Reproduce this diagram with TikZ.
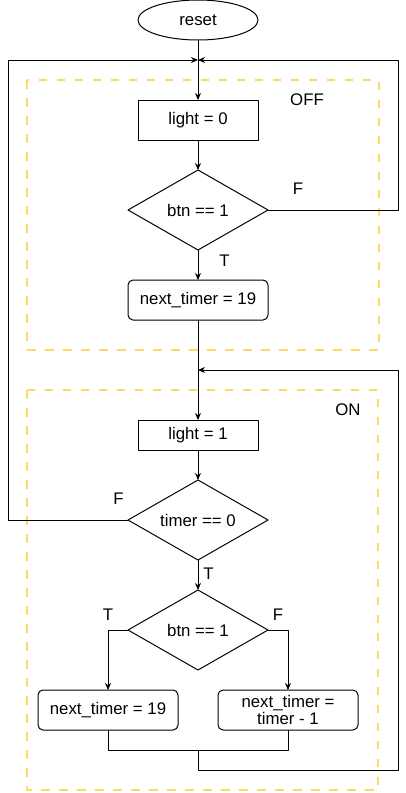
\documentclass[tikz,border=0pt]{standalone}
\usepackage{fontspec}
\setmainfont{Liberation Sans}
\usetikzlibrary{arrows.meta,positioning,shapes.geometric}

\begin{document}
\begin{tikzpicture}[
    x=1pt,
    y=-1pt,
    >={Stealth[length=7pt,width=6pt]},
    font=\fontsize{16.8}{19}\selectfont,
    line join=round,
    line width=1pt,
    outer sep=0pt,
    block/.style={
        draw,
        rectangle,
        minimum width=120pt,
        minimum height=40pt,
        align=center
    },
    roundblock/.style={
        block,
        rounded corners=5pt,
        minimum width=140pt
    },
    terminal/.style={
        draw,
        ellipse,
        minimum width=120pt,
        minimum height=40pt,
        inner sep=1pt
    },
    decision/.style={
        draw,
        diamond,
        aspect=1.75,
        minimum width=140pt,
        minimum height=80pt,
        align=center,
        inner sep=1pt
    },
    frame/.style={
        draw={rgb,255:red,255;green,217;blue,102},
        line width=2.2pt,
        dash pattern=on 8.5pt off 9.5pt
    },
    signal/.style={->}
]
\useasboundingbox (0,0) rectangle (406,793);

% =========================
% State frames
% =========================
\draw[frame] (27,80) rectangle (379,350);
\draw[frame] (27,390) rectangle (378,790);
\node (offlabel) at (307,100) {OFF};
\node (onlabel) at (348,410) {ON};

% =========================
% Nodes
% =========================
\node[terminal] (reset) at (198,20) {reset};

\coordinate (join1) at (198,60);

\node[block, below=60pt of reset] (light0) {light = 0};

\node[decision, below=30pt of light0] (btn1) {btn == 1};

\node[roundblock, below=30pt of btn1] (load1) {next\_timer = 19};

\coordinate (join2) at (198,370);

\node[block, minimum height=30pt, below=100pt of load1] (light1) {light = 1};

\node[decision, below=30pt of light1] (timer0) {timer == 0};

\node[decision, below=30pt of timer0] (btn2) {btn == 1};

\node[roundblock, below=20pt of btn2.south, xshift=-90pt] (load2) {next\_timer = 19};

\node[roundblock, below=20pt of btn2.south, xshift=90pt] (count) {next\_timer =\\[-2pt]timer - 1};

\coordinate (merge) at (198,750);

% =========================
% Main flow
% =========================
\draw[signal] (reset) -- (light0);
\draw[signal] (light0) -- (btn1);
\draw[signal] (btn1) -- node[pos=0.35,right=18pt] {T} (load1);
\draw[signal] (load1) -- (light1);
\draw[signal] (light1) -- (timer0);
\draw[signal] (timer0) -- node[pos=0.45,right=2pt] {T} (btn2);

% =========================
% Decision branches
% =========================
\draw[signal] (btn1.east) -- node[pos=0.23,above=12pt] {F} ++(130,0) |- (join1);
\draw[signal] (timer0.west) -- node[pos=0.08,above=12pt] {F} ++(-120,0) |- (join1);

\draw[signal] (btn2.west) -| node[pos=0.0,above=6pt,xshift=-20pt] {T} (load2.north);
\draw[signal] (btn2.east) -| node[pos=0.0,above=6pt,xshift=10pt] {F} (count.north);

\draw (load2.south) |- (merge) -| (count.south);
\draw[signal] (merge) -- ++(0,20) -- ++(200,0) |- (join2);

\end{tikzpicture}
\end{document}
